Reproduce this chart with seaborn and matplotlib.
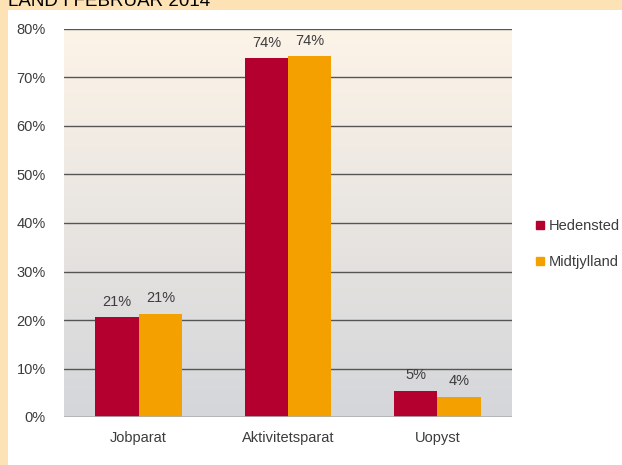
import matplotlib.pyplot as plt
import matplotlib.patches as mpatches
import numpy as np
import pandas as pd
import seaborn as sns

categories = ['Jobparat', 'Aktivitetsparat', 'Uopyst']
hedensted = [20.6, 74.0, 5.4]
midtjylland = [21.3, 74.4, 4.2]
series_names = ['Hedensted', 'Midtjylland']
colors = ['#B4002F', '#F4A000']
title = 'LAND I FEBRUAR 2014'

df = pd.DataFrame({
    'kategori': categories * 2,
    'andel': hedensted + midtjylland,
    'omraade': [series_names[0]] * 3 + [series_names[1]] * 3,
})

sns.set_style('white')
plt.rcParams['font.family'] = ['Liberation Sans', 'DejaVu Sans']
txt_color = '#3C3C3C'
fs = 10.5

fig = plt.figure(figsize=(6.22, 4.65), dpi=100)
fig.patch.set_facecolor('#FCE2B4')
# white card below the orange strip
fig.patches.append(mpatches.Rectangle((8 / 622, 0), 1, 1 - 10 / 465,
                                      transform=fig.transFigure,
                                      facecolor='white', edgecolor='none', zorder=-5))
fig.text(8 / 622, 1 - 1 / 465, title, fontsize=13.5, color='black', va='center', ha='left')

ax = fig.add_axes([64 / 622, 1 - 417 / 465, 448 / 622, 388 / 465])
ax.set_zorder(2)

sns.barplot(data=df, x='kategori', y='andel', hue='omraade', palette=colors,
            width=0.58, saturation=1, ax=ax, zorder=3, legend=False,
            linewidth=0, edgecolor='none')

# gradient background: cream on top, grey at the bottom
top = np.array([253, 244, 232]) / 255
bot = np.array([212, 214, 218]) / 255
t = np.linspace(0, 1, 256)[:, None]
grad = (top * (1 - t) + bot * t)[:, None, :]
ax.imshow(grad, extent=(-0.5, 2.5, 0, 80), aspect='auto', origin='upper', zorder=0)
ax.set_xlim(-0.5, 2.5)
ax.set_ylim(0, 80)

ticks = np.arange(0, 81, 10)
ax.set_yticks(ticks)
ax.set_yticklabels([f'{v}%' for v in ticks])
for v in ticks[1:]:
    ax.axhline(v, color='#555555', linewidth=1, zorder=1)
ax.axhline(0, color='#B0B0B0', linewidth=1.2, zorder=4)

for c in ax.containers:
    ax.bar_label(c, labels=[f'{v:.0f}%' for v in c.datavalues], padding=6,
                 fontsize=fs, color=txt_color)

for s in ax.spines.values():
    s.set_visible(False)
ax.tick_params(axis='both', length=0, labelsize=fs, colors=txt_color)
ax.tick_params(axis='y', pad=13)
ax.tick_params(axis='x', pad=10)
ax.set_xlabel('')
ax.set_ylabel('')

handles = [plt.Line2D([], [], marker='s', linestyle='none', markersize=6,
                      color=col) for col in colors]
fig.legend(handles, series_names, loc='center left', bbox_to_anchor=(0.835, 0.475),
           frameon=False, fontsize=fs, labelspacing=1.5, handletextpad=0.1,
           handlelength=1.0, labelcolor=txt_color)

fig.savefig('out.png', dpi=100)
